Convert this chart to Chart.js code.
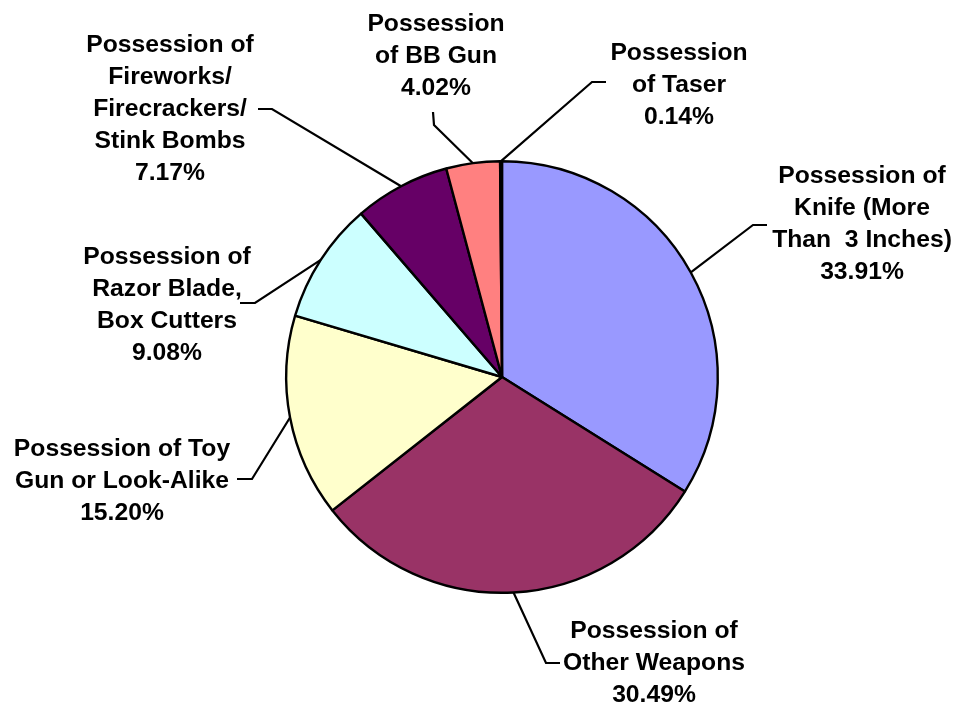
<!DOCTYPE html>
<html>
<head>
<meta charset="utf-8">
<script src="https://cdn.jsdelivr.net/npm/chart.js@4/dist/chart.umd.min.js"></script>
<style>
  html, body { margin: 0; padding: 0; background: #fff; }
  canvas { display: block; }
</style>
</head>
<body>
<canvas id="myChart" width="956" height="704"></canvas>
<script>
// dados
const categorias = [
    ['Possession of', 'Knife (More', 'Than  3 Inches)'],
    ['Possession of', 'Other Weapons'],
    ['Possession of Toy', 'Gun or Look-Alike'],
    ['Possession of', 'Razor Blade,', 'Box Cutters'],
    ['Possession of', 'Fireworks/', 'Firecrackers/', 'Stink Bombs'],
    ['Possession', 'of BB Gun'],
    ['Possession', 'of Taser']
];
const percentuais = [33.91, 30.49, 15.20, 9.08, 7.17, 4.02, 0.14];
const cores = ['#9999FF', '#993366', '#FFFFCC', '#CCFFFF', '#660066', '#FF8080', '#0066CC'];

// posicao dos rotulos: centro do texto (1a linha), cotovelo e ponta da linha guia
const rotulos = [
    { tx: 862, ty: 176, elbow: [753, 225], end: [767, 225] },
    { tx: 654, ty: 631, elbow: [546, 663], end: [560, 663] },
    { tx: 122, ty: 449, elbow: [252, 479], end: [237, 479] },
    { tx: 167, ty: 257, elbow: [255, 303], end: [240, 303] },
    { tx: 170, ty: 45,  elbow: [272, 109], end: [258, 109] },
    { tx: 436, ty: 24,  elbow: [434, 125], end: [433, 112] },
    { tx: 679, ty: 53,  elbow: [592, 82],  end: [606, 82] }
];

const alturaLinha = 32;

const rotulosPlugin = {
    id: 'rotulosPizza',
    afterDraw(chart) {
        const ctx = chart.ctx;
        const arcs = chart.getDatasetMeta(0).data;
        ctx.save();
        ctx.strokeStyle = '#000';
        ctx.lineWidth = 2.2;
        ctx.fillStyle = '#000';
        ctx.font = 'bold 24.7px "Liberation Sans", Arial, sans-serif';
        ctx.textAlign = 'center';
        ctx.textBaseline = 'middle';
        arcs.forEach((arc, i) => {
            const meio = (arc.startAngle + arc.endAngle) / 2;
            const r = arc.outerRadius;
            const px = arc.x + Math.cos(meio) * r;
            const py = arc.y + Math.sin(meio) * r;
            const p = rotulos[i];
            ctx.beginPath();
            ctx.moveTo(px, py);
            ctx.lineTo(p.elbow[0], p.elbow[1]);
            ctx.lineTo(p.end[0], p.end[1]);
            ctx.stroke();

            const linhas = categorias[i].concat([percentuais[i].toFixed(2) + '%']);
            linhas.forEach((t, k) => {
                ctx.fillText(t, p.tx, p.ty + k * alturaLinha);
            });
        });
        ctx.restore();
    }
};

const ctx = document.getElementById('myChart').getContext('2d');
new Chart(ctx, {
    type: 'pie',
    data: {
        labels: categorias.map(c => c.join(' ')),
        datasets: [{
            data: percentuais,
            backgroundColor: cores,
            borderColor: '#000',
            borderWidth: 2.4,
            hoverOffset: 0
        }]
    },
    options: {
        responsive: false,
        animation: false,
        layout: { padding: { top: 160, bottom: 110, left: 285, right: 237 } },
        plugins: {
            legend: { display: false },
            tooltip: { enabled: false }
        }
    },
    plugins: [rotulosPlugin]
});
</script>
</body>
</html>
